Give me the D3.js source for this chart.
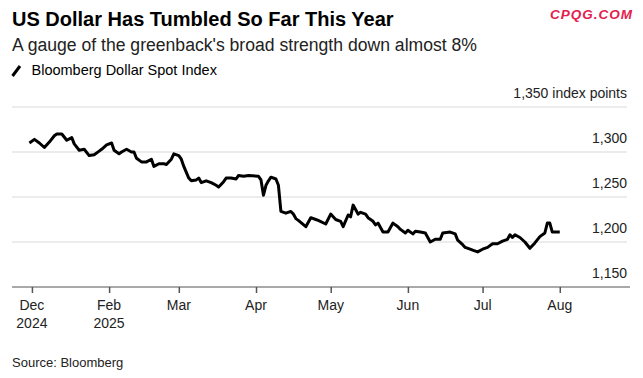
<!DOCTYPE html>
<html>
<head>
<meta charset="utf-8">
<script src="https://cdn.jsdelivr.net/npm/d3@7"></script>
<style>
	html, body { margin: 0; padding: 0; background: #fff; }
	svg { display: block; font-family: "Liberation Sans", Arial, sans-serif; }
</style>
</head>
<body>
<div id="chart"></div>
<script>
const dates = [
	"2024-12-31", "2025-01-02", "2025-01-04", "2025-01-06", "2025-01-08", "2025-01-10", "2025-01-11", "2025-01-13",
	"2025-01-15", "2025-01-17", "2025-01-18", "2025-01-20", "2025-01-22", "2025-01-24", "2025-01-26", "2025-01-28",
	"2025-01-29", "2025-01-31", "2025-02-02", "2025-02-03", "2025-02-05", "2025-02-06", "2025-02-08", "2025-02-10",
	"2025-02-11", "2025-02-12", "2025-02-14", "2025-02-16", "2025-02-18", "2025-02-19", "2025-02-21", "2025-02-23",
	"2025-02-24", "2025-02-26", "2025-02-27", "2025-03-01", "2025-03-02", "2025-03-03", "2025-03-05", "2025-03-06",
	"2025-03-08", "2025-03-09", "2025-03-10", "2025-03-12", "2025-03-14", "2025-03-16", "2025-03-17", "2025-03-19",
	"2025-03-20", "2025-03-22", "2025-03-24", "2025-03-25", "2025-03-27", "2025-03-29", "2025-04-02", "2025-04-03",
	"2025-04-04", "2025-04-05", "2025-04-06", "2025-04-07", "2025-04-09", "2025-04-10", "2025-04-11", "2025-04-13",
	"2025-04-15", "2025-04-16", "2025-04-17", "2025-04-18", "2025-04-21", "2025-04-23", "2025-04-25", "2025-04-26",
	"2025-04-29", "2025-05-01", "2025-05-03", "2025-05-05", "2025-05-06", "2025-05-08", "2025-05-09", "2025-05-10",
	"2025-05-12", "2025-05-13", "2025-05-15", "2025-05-16", "2025-05-18", "2025-05-19", "2025-05-20", "2025-05-22",
	"2025-05-24", "2025-05-25", "2025-05-26", "2025-05-28", "2025-05-29", "2025-05-31", "2025-06-01", "2025-06-03",
	"2025-06-04", "2025-06-06", "2025-06-08", "2025-06-10", "2025-06-12", "2025-06-14", "2025-06-15", "2025-06-18",
	"2025-06-20", "2025-06-21", "2025-06-23", "2025-06-24", "2025-06-26", "2025-06-27", "2025-06-29", "2025-07-01",
	"2025-07-03", "2025-07-05", "2025-07-07", "2025-07-09", "2025-07-11", "2025-07-12", "2025-07-13", "2025-07-14",
	"2025-07-16", "2025-07-18", "2025-07-20", "2025-07-22", "2025-07-24", "2025-07-26", "2025-07-27", "2025-07-28",
	"2025-07-29", "2025-07-30", "2025-08-01"
];

const values = [
	1310, 1314, 1310, 1305, 1311, 1318, 1320, 1320,
	1313, 1316, 1309, 1302, 1303, 1296, 1297, 1301,
	1303, 1308, 1310, 1302, 1298, 1300, 1303, 1300,
	1300, 1293, 1289, 1289, 1292, 1284, 1287, 1287,
	1286, 1292, 1298, 1296, 1292, 1284, 1271, 1268,
	1269, 1271, 1266, 1268, 1266, 1263, 1261, 1267,
	1271, 1271, 1270, 1274, 1273, 1274, 1273, 1269,
	1252, 1263, 1268, 1272, 1270, 1263, 1234, 1232,
	1234, 1231, 1226, 1224, 1217, 1227, 1225, 1224,
	1220, 1231, 1225, 1223, 1217, 1230, 1228, 1241,
	1231, 1233, 1231, 1227, 1223, 1219, 1221, 1211,
	1211, 1216, 1221, 1217, 1214, 1210, 1213, 1209,
	1212, 1211, 1210, 1200, 1203, 1203, 1210, 1211,
	1209, 1202, 1197, 1194, 1192, 1191, 1189, 1192,
	1194, 1198, 1198, 1201, 1203, 1208, 1205, 1208,
	1205, 1200, 1193, 1199, 1206, 1210, 1221, 1221,
	1211, 1211, 1211
];

// x ticks: month label plus year on a second line
const tickDates = ["2025-01-01", "2025-02-01", "2025-03-01", "2025-04-01", "2025-05-01", "2025-06-01", "2025-07-01", "2025-08-01"];
const tickMonths = ["Dec", "Feb", "Mar", "Apr", "May", "Jun", "Jul", "Aug"];
const tickYears = ["2024", "2025", "", "", "", "", "", ""];

const yTicks = [1150, 1200, 1250, 1300, 1350];

const width = 643,
	height = 378;

const parse = d3.timeParse("%Y-%m-%d");
const data = dates.map((d, i) => ({ date: parse(d), value: values[i] }));

const svg = d3
	.select("#chart")
	.append("svg")
	.attr("width", width)
	.attr("height", height);

const x = d3
	.scaleTime()
	.domain([parse("2024-12-24"), parse("2025-08-28")])
	.range([12, 627]);

const y = d3.scaleLinear().domain([1150, 1350]).range([287, 107]);

// header
svg.append("text")
	.attr("x", 12)
	.attr("y", 26)
	.attr("font-size", 20)
	.attr("font-weight", "bold")
	.attr("fill", "#000")
	.text("US Dollar Has Tumbled So Far This Year");

svg.append("text")
	.attr("x", 12)
	.attr("y", 51)
	.attr("font-size", 17.6)
	.attr("fill", "#222")
	.text("A gauge of the greenback's broad strength down almost 8%");

svg.append("text")
	.attr("x", 633)
	.attr("y", 19)
	.attr("text-anchor", "end")
	.attr("font-size", 13.5)
	.attr("font-weight", "bold")
	.attr("font-style", "italic")
	.attr("letter-spacing", 1)
	.attr("fill", "#e3204f")
	.text("CPQG.COM");

// legend
svg.append("line")
	.attr("x1", 12.5)
	.attr("y1", 76)
	.attr("x2", 20)
	.attr("y2", 66)
	.attr("stroke", "#000")
	.attr("stroke-width", 3);

svg.append("text")
	.attr("x", 31.5)
	.attr("y", 74.5)
	.attr("font-size", 14.5)
	.attr("fill", "#000")
	.text("Bloomberg Dollar Spot Index");

// gridlines + y labels
const grid = svg.append("g").attr("class", "grid");

grid.selectAll("line")
	.data(yTicks.filter((d) => d > 1150))
	.enter()
	.append("line")
	.attr("x1", 12)
	.attr("x2", 627)
	.attr("y1", (d) => y(d))
	.attr("y2", (d) => y(d))
	.attr("stroke", "#d9d9d9")
	.attr("stroke-width", 1);

grid.selectAll("text")
	.data(yTicks)
	.enter()
	.append("text")
	.attr("x", 627)
	.attr("y", (d) => y(d) - 9)
	.attr("text-anchor", "end")
	.attr("font-size", 14)
	.attr("fill", "#222")
	.text((d) => d3.format(",")(d) + (d === 1350 ? " index points" : ""));

// x axis
const xAxis = svg
	.append("g")
	.attr("transform", "translate(0," + y(1150) + ")")
	.call(
		d3
			.axisBottom(x)
			.tickValues(tickDates.map(parse))
			.tickSize(6)
			.tickFormat("")
	);

xAxis.select(".domain").attr("stroke", "#8c8c8c").attr("stroke-width", 1.5).attr("d", "M12,0H630");
xAxis.selectAll(".tick line").attr("stroke", "#555").attr("stroke-width", 1.5);

const xLabels = svg.append("g").attr("class", "x-labels");

xLabels
	.selectAll("text.month")
	.data(tickDates)
	.enter()
	.append("text")
	.attr("class", "month")
	.attr("x", (d) => x(parse(d)))
	.attr("y", 310)
	.attr("text-anchor", "middle")
	.attr("font-size", 14)
	.attr("fill", "#222")
	.text((d, i) => tickMonths[i]);

xLabels
	.selectAll("text.year")
	.data(tickDates)
	.enter()
	.append("text")
	.attr("class", "year")
	.attr("x", (d) => x(parse(d)))
	.attr("y", 328)
	.attr("text-anchor", "middle")
	.attr("font-size", 14)
	.attr("fill", "#222")
	.text((d, i) => tickYears[i]);

// the series
const line = d3
	.line()
	.x((d) => x(d.date))
	.y((d) => y(d.value));

svg.append("path")
	.datum(data)
	.attr("d", line)
	.attr("fill", "none")
	.attr("stroke", "#000")
	.attr("stroke-width", 3)
	.attr("stroke-linejoin", "round");

svg.append("text")
	.attr("x", 12)
	.attr("y", 367)
	.attr("font-size", 13)
	.attr("fill", "#222")
	.text("Source: Bloomberg");
</script>
</body>
</html>
